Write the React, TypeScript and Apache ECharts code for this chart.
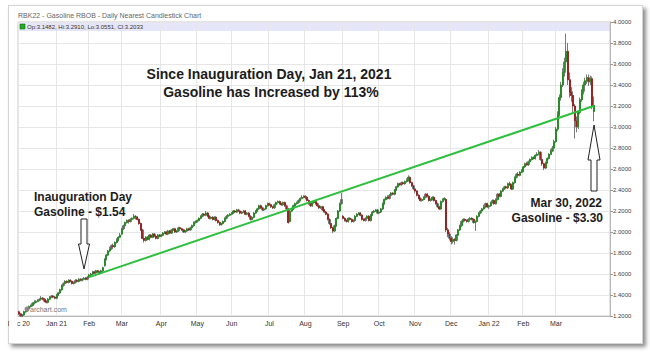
import React, { useEffect, useRef } from "react";
import * as echarts from "echarts";

// Month tick labels (one per month shown on the x axis)
const monthLabels = ["Dec 20", "Jan 21", "Feb", "Mar", "Apr", "May", "Jun", "Jul", "Aug", "Sep", "Oct", "Nov", "Dec", "Jan 22", "Feb", "Mar"];

// Daily candles per month: [open, close, low, high]
const dec20 = [
  [1.24, 1.22, 1.21, 1.25], [1.22, 1.2, 1.19, 1.23], [1.2, 1.21, 1.19, 1.22], [1.21, 1.24, 1.2, 1.25], [1.24, 1.25, 1.23, 1.26],
  [1.25, 1.27, 1.24, 1.28], [1.27, 1.29, 1.26, 1.3], [1.29, 1.3, 1.28, 1.31], [1.3, 1.32, 1.29, 1.33], [1.32, 1.33, 1.31, 1.35],
  [1.33, 1.34, 1.32, 1.35], [1.34, 1.35, 1.33, 1.36], [1.35, 1.36, 1.34, 1.37], [1.36, 1.37, 1.35, 1.39], [1.37, 1.36, 1.35, 1.38],
  [1.36, 1.34, 1.33, 1.37], [1.34, 1.33, 1.32, 1.35], [1.33, 1.36, 1.32, 1.37], [1.36, 1.38, 1.35, 1.39], [1.38, 1.39, 1.37, 1.4],
  [1.39, 1.38, 1.37, 1.4], [1.38, 1.37, 1.36, 1.39],
];
const jan21 = [
  [1.37, 1.4, 1.36, 1.41], [1.4, 1.42, 1.39, 1.43], [1.42, 1.45, 1.41, 1.46], [1.45, 1.49, 1.44, 1.5], [1.49, 1.51, 1.48, 1.52],
  [1.51, 1.53, 1.5, 1.54], [1.53, 1.52, 1.51, 1.54], [1.52, 1.54, 1.51, 1.55], [1.54, 1.53, 1.52, 1.55], [1.53, 1.51, 1.5, 1.54],
  [1.51, 1.52, 1.5, 1.53], [1.52, 1.54, 1.51, 1.55], [1.54, 1.53, 1.52, 1.55], [1.53, 1.55, 1.52, 1.56], [1.55, 1.54, 1.53, 1.56],
  [1.54, 1.55, 1.53, 1.56], [1.55, 1.56, 1.54, 1.57], [1.56, 1.55, 1.54, 1.57], [1.55, 1.57, 1.54, 1.58],
];
const feb21 = [
  [1.57, 1.59, 1.56, 1.6], [1.59, 1.6, 1.58, 1.61], [1.6, 1.62, 1.59, 1.63], [1.62, 1.61, 1.6, 1.63], [1.61, 1.63, 1.6, 1.64],
  [1.63, 1.62, 1.61, 1.64], [1.62, 1.61, 1.6, 1.63], [1.61, 1.63, 1.6, 1.64], [1.63, 1.66, 1.62, 1.67], [1.68, 1.74, 1.67, 1.75],
  [1.74, 1.78, 1.73, 1.79], [1.78, 1.82, 1.77, 1.83], [1.82, 1.84, 1.81, 1.86], [1.84, 1.87, 1.83, 1.88], [1.87, 1.86, 1.84, 1.89],
  [1.86, 1.9, 1.85, 1.91], [1.9, 1.92, 1.89, 1.94], [1.92, 1.95, 1.91, 1.96], [1.95, 1.97, 1.94, 1.99],
];
const mar21 = [
  [1.98, 2.03, 1.97, 2.04], [2.03, 2.06, 2.02, 2.07], [2.06, 2.09, 2.05, 2.1], [2.09, 2.11, 2.08, 2.12], [2.11, 2.1, 2.08, 2.12],
  [2.1, 2.12, 2.09, 2.13], [2.12, 2.13, 2.11, 2.14], [2.13, 2.15, 2.12, 2.17], [2.15, 2.14, 2.12, 2.16], [2.14, 2.12, 2.11, 2.15],
  [2.12, 2.08, 2.07, 2.13], [2.08, 2.02, 2.01, 2.09], [2.02, 1.94, 1.93, 2.03], [1.94, 1.92, 1.9, 1.95], [1.92, 1.95, 1.91, 1.96],
  [1.95, 1.93, 1.92, 1.96], [1.93, 1.97, 1.92, 1.98], [1.97, 1.95, 1.94, 1.98], [1.95, 1.98, 1.94, 1.99], [1.98, 1.96, 1.95, 1.99],
  [1.96, 1.94, 1.93, 1.97], [1.94, 1.97, 1.93, 1.98], [1.97, 1.96, 1.95, 1.98],
];
const apr21 = [
  [1.96, 1.97, 1.95, 1.98], [1.97, 1.99, 1.96, 2.0], [1.99, 2.0, 1.98, 2.01], [2.0, 1.98, 1.97, 2.01], [1.98, 2.01, 1.97, 2.02],
  [2.01, 1.99, 1.98, 2.02], [1.99, 2.02, 1.98, 2.03], [2.02, 2.03, 2.01, 2.04], [2.03, 2.0, 1.99, 2.04], [2.0, 2.01, 1.99, 2.02],
  [2.01, 2.04, 2.0, 2.05], [2.04, 2.03, 2.02, 2.05], [2.03, 2.02, 2.01, 2.04], [2.02, 2.0, 1.99, 2.03], [2.0, 2.01, 1.99, 2.02],
  [2.01, 2.03, 2.0, 2.04], [2.03, 2.02, 2.01, 2.04], [2.02, 2.04, 2.01, 2.05], [2.04, 2.06, 2.03, 2.07], [2.06, 2.09, 2.05, 2.1],
  [2.09, 2.1, 2.08, 2.11],
];
const may21 = [
  [2.1, 2.11, 2.09, 2.12], [2.11, 2.13, 2.1, 2.14], [2.13, 2.15, 2.12, 2.16], [2.15, 2.17, 2.14, 2.18], [2.17, 2.16, 2.15, 2.18],
  [2.16, 2.18, 2.15, 2.2], [2.18, 2.15, 2.14, 2.19], [2.15, 2.13, 2.12, 2.16], [2.13, 2.14, 2.12, 2.15], [2.14, 2.12, 2.11, 2.15],
  [2.12, 2.14, 2.11, 2.15], [2.14, 2.11, 2.1, 2.15], [2.11, 2.09, 2.08, 2.12], [2.09, 2.07, 2.06, 2.1], [2.07, 2.08, 2.06, 2.09],
  [2.08, 2.1, 2.07, 2.11], [2.1, 2.13, 2.09, 2.14], [2.13, 2.15, 2.12, 2.16], [2.15, 2.16, 2.14, 2.17], [2.16, 2.17, 2.15, 2.18],
];
const jun21 = [
  [2.17, 2.18, 2.16, 2.19], [2.18, 2.2, 2.17, 2.21], [2.2, 2.19, 2.18, 2.21], [2.19, 2.21, 2.18, 2.22], [2.21, 2.2, 2.19, 2.22],
  [2.2, 2.18, 2.17, 2.21], [2.18, 2.19, 2.17, 2.2], [2.19, 2.2, 2.18, 2.21], [2.2, 2.17, 2.16, 2.21], [2.17, 2.18, 2.16, 2.19],
  [2.18, 2.15, 2.14, 2.19], [2.15, 2.12, 2.11, 2.16], [2.12, 2.14, 2.11, 2.15], [2.14, 2.18, 2.13, 2.19], [2.18, 2.2, 2.17, 2.21],
  [2.2, 2.22, 2.19, 2.23], [2.22, 2.25, 2.21, 2.26], [2.25, 2.23, 2.22, 2.26], [2.23, 2.21, 2.2, 2.24], [2.21, 2.22, 2.2, 2.23],
  [2.22, 2.25, 2.21, 2.26], [2.25, 2.27, 2.24, 2.28],
];
const jul21 = [
  [2.27, 2.26, 2.25, 2.28], [2.26, 2.24, 2.23, 2.27], [2.24, 2.23, 2.22, 2.25], [2.23, 2.26, 2.22, 2.27], [2.26, 2.28, 2.25, 2.29],
  [2.28, 2.29, 2.27, 2.3], [2.29, 2.27, 2.26, 2.3], [2.27, 2.26, 2.25, 2.28], [2.26, 2.28, 2.25, 2.29], [2.28, 2.25, 2.24, 2.29],
  [2.25, 2.22, 2.21, 2.26], [2.22, 2.09, 2.08, 2.23], [2.1, 2.2, 2.09, 2.21], [2.2, 2.22, 2.19, 2.23], [2.22, 2.25, 2.21, 2.26],
  [2.25, 2.27, 2.24, 2.28], [2.27, 2.28, 2.26, 2.29], [2.28, 2.3, 2.27, 2.31], [2.3, 2.32, 2.29, 2.33], [2.32, 2.33, 2.31, 2.35],
  [2.33, 2.34, 2.32, 2.35],
];
const aug21 = [
  [2.34, 2.33, 2.31, 2.35], [2.33, 2.3, 2.29, 2.34], [2.3, 2.27, 2.26, 2.31], [2.27, 2.25, 2.24, 2.28], [2.25, 2.28, 2.24, 2.29],
  [2.28, 2.29, 2.27, 2.3], [2.29, 2.27, 2.26, 2.3], [2.27, 2.25, 2.24, 2.28], [2.25, 2.23, 2.22, 2.26], [2.23, 2.24, 2.22, 2.25],
  [2.24, 2.21, 2.2, 2.25], [2.21, 2.19, 2.18, 2.22], [2.19, 2.17, 2.16, 2.2], [2.17, 2.12, 2.11, 2.18], [2.12, 2.08, 2.07, 2.13],
  [2.08, 2.04, 2.03, 2.09], [2.04, 2.01, 1.99, 2.05], [2.01, 2.06, 2.0, 2.07], [2.06, 2.13, 2.05, 2.14], [2.13, 2.2, 2.12, 2.21],
  [2.2, 2.27, 2.19, 2.28], [2.27, 2.31, 2.26, 2.37],
];
const sep21 = [
  [2.15, 2.13, 2.12, 2.16], [2.13, 2.11, 2.1, 2.14], [2.11, 2.1, 2.09, 2.12], [2.1, 2.13, 2.09, 2.14], [2.13, 2.12, 2.11, 2.14],
  [2.12, 2.1, 2.09, 2.13], [2.1, 2.11, 2.09, 2.12], [2.11, 2.15, 2.1, 2.16], [2.15, 2.17, 2.14, 2.18], [2.17, 2.18, 2.16, 2.19],
  [2.18, 2.16, 2.15, 2.19], [2.16, 2.12, 2.11, 2.17], [2.12, 2.11, 2.1, 2.13], [2.11, 2.13, 2.1, 2.14], [2.13, 2.15, 2.12, 2.16],
  [2.15, 2.11, 2.1, 2.16], [2.11, 2.16, 2.1, 2.17], [2.16, 2.19, 2.15, 2.2], [2.19, 2.2, 2.18, 2.21], [2.2, 2.21, 2.19, 2.22],
  [2.21, 2.18, 2.17, 2.22],
];
const oct21 = [
  [2.18, 2.19, 2.17, 2.21], [2.19, 2.22, 2.18, 2.23], [2.22, 2.27, 2.21, 2.28], [2.27, 2.31, 2.26, 2.32], [2.31, 2.33, 2.3, 2.34],
  [2.33, 2.32, 2.31, 2.35], [2.32, 2.35, 2.31, 2.36], [2.35, 2.37, 2.34, 2.38], [2.37, 2.36, 2.35, 2.38], [2.36, 2.4, 2.35, 2.41],
  [2.4, 2.43, 2.39, 2.44], [2.43, 2.46, 2.42, 2.47], [2.46, 2.45, 2.44, 2.47], [2.45, 2.47, 2.44, 2.48], [2.47, 2.46, 2.45, 2.48],
  [2.46, 2.48, 2.45, 2.49], [2.48, 2.49, 2.47, 2.51], [2.49, 2.52, 2.48, 2.54], [2.52, 2.47, 2.46, 2.53], [2.47, 2.44, 2.43, 2.48],
  [2.44, 2.41, 2.4, 2.45],
];
const nov21 = [
  [2.41, 2.39, 2.37, 2.42], [2.39, 2.35, 2.34, 2.4], [2.35, 2.32, 2.31, 2.36], [2.32, 2.3, 2.29, 2.33], [2.3, 2.31, 2.29, 2.32],
  [2.31, 2.33, 2.3, 2.34], [2.33, 2.36, 2.32, 2.37], [2.36, 2.34, 2.33, 2.37], [2.34, 2.3, 2.29, 2.35], [2.3, 2.31, 2.29, 2.32],
  [2.31, 2.33, 2.3, 2.34], [2.33, 2.3, 2.29, 2.34], [2.3, 2.27, 2.26, 2.31], [2.27, 2.24, 2.23, 2.28], [2.24, 2.22, 2.21, 2.25],
  [2.22, 2.29, 2.21, 2.3], [2.29, 2.31, 2.28, 2.32], [2.31, 2.32, 2.3, 2.33], [2.31, 2.02, 2.0, 2.32], [2.02, 1.98, 1.95, 2.04],
  [1.98, 1.94, 1.92, 2.0],
];
const dec21 = [
  [1.94, 1.91, 1.88, 1.96], [1.91, 1.93, 1.89, 1.95], [1.93, 1.92, 1.88, 1.94], [1.92, 1.97, 1.91, 1.98], [1.97, 2.02, 1.96, 2.03],
  [2.02, 2.06, 2.01, 2.07], [2.06, 2.1, 2.05, 2.11], [2.1, 2.12, 2.09, 2.13], [2.12, 2.11, 2.1, 2.13], [2.11, 2.1, 2.09, 2.12],
  [2.1, 2.12, 2.09, 2.13], [2.12, 2.13, 2.11, 2.14], [2.13, 2.12, 2.11, 2.14], [2.12, 2.09, 2.08, 2.13], [2.09, 2.1, 2.01, 2.11],
  [2.1, 2.15, 2.09, 2.16], [2.15, 2.18, 2.14, 2.19], [2.18, 2.2, 2.17, 2.21], [2.2, 2.22, 2.19, 2.23], [2.22, 2.24, 2.21, 2.26],
  [2.24, 2.27, 2.23, 2.28], [2.27, 2.24, 2.23, 2.28],
];
const jan22 = [
  [2.24, 2.25, 2.22, 2.26], [2.25, 2.28, 2.24, 2.29], [2.28, 2.3, 2.27, 2.31], [2.3, 2.27, 2.26, 2.31], [2.27, 2.31, 2.26, 2.32],
  [2.31, 2.36, 2.3, 2.37], [2.36, 2.34, 2.33, 2.37], [2.34, 2.39, 2.33, 2.4], [2.39, 2.41, 2.38, 2.42], [2.41, 2.43, 2.4, 2.44],
  [2.43, 2.42, 2.41, 2.44], [2.42, 2.46, 2.41, 2.47], [2.46, 2.45, 2.44, 2.48], [2.45, 2.41, 2.4, 2.46], [2.41, 2.47, 2.4, 2.48],
  [2.47, 2.52, 2.46, 2.53], [2.52, 2.55, 2.51, 2.56], [2.55, 2.54, 2.53, 2.57], [2.54, 2.57, 2.53, 2.58], [2.57, 2.58, 2.56, 2.6],
];
const feb22 = [
  [2.58, 2.62, 2.57, 2.63], [2.62, 2.65, 2.61, 2.66], [2.65, 2.64, 2.63, 2.67], [2.64, 2.67, 2.63, 2.68], [2.67, 2.69, 2.66, 2.7],
  [2.69, 2.71, 2.68, 2.72], [2.71, 2.7, 2.69, 2.72], [2.7, 2.73, 2.69, 2.74], [2.73, 2.74, 2.72, 2.76], [2.74, 2.76, 2.73, 2.78],
  [2.76, 2.69, 2.68, 2.77], [2.69, 2.65, 2.63, 2.7], [2.65, 2.61, 2.59, 2.66], [2.61, 2.66, 2.6, 2.67], [2.66, 2.7, 2.65, 2.71],
  [2.7, 2.74, 2.69, 2.75], [2.74, 2.77, 2.73, 2.79], [2.77, 2.8, 2.76, 2.82], [2.8, 2.86, 2.79, 2.88],
];
const mar22 = [
  [2.86, 2.98, 2.85, 3.0], [2.98, 3.12, 2.96, 3.15], [3.12, 3.28, 3.1, 3.31], [3.28, 3.4, 3.25, 3.43], [3.4, 3.52, 3.38, 3.56],
  [3.52, 3.62, 3.48, 3.66], [3.62, 3.72, 3.58, 3.89], [3.72, 3.45, 3.4, 3.8], [3.45, 3.33, 3.28, 3.52], [3.33, 3.3, 3.24, 3.38],
  [3.3, 3.2, 3.14, 3.34], [3.2, 3.06, 2.89, 3.22], [3.06, 3.0, 2.95, 3.1], [3.0, 3.14, 2.98, 3.16], [3.14, 3.26, 3.12, 3.28],
  [3.26, 3.34, 3.24, 3.36], [3.34, 3.4, 3.31, 3.43], [3.4, 3.44, 3.37, 3.47], [3.44, 3.47, 3.41, 3.5], [3.47, 3.43, 3.39, 3.5],
  [3.43, 3.46, 3.4, 3.49], [3.46, 3.2, 3.17, 3.48], [3.1482, 3.2033, 3.0551, 3.291],
];

// Trend line (Inauguration to last bar) and last price tag
const trendStartIndex = 41;
const trendStartValue = 1.57;
const trendEndIndex = 335;
const trendEndValue = 3.2;
const lastPrice = 3.2033;
const emptyDaysAtRight = 9;

const FONT = "Liberation Sans, Arial, sans-serif";

export default function App() {
  const ref = useRef<HTMLDivElement>(null);

  useEffect(() => {
    if (!ref.current) return;
    const chart = echarts.init(ref.current, undefined, { renderer: "svg" });

    const months = [dec20, jan21, feb21, mar21, apr21, may21, jun21, jul21, aug21, sep21, oct21, nov21, dec21, jan22, feb22, mar22];
    const categories: string[] = [];
    const candles: number[][] = [];
    const monthStart = new Set<number>();
    months.forEach((m, mi) => {
      m.forEach((d, di) => {
        if (di === 0) monthStart.add(categories.length);
        categories.push(`${mi}-${di}`);
        candles.push(d);
      });
    });
    for (let k = 0; k < emptyDaysAtRight; k++) categories.push(`x${k}`);
    // bodies only (open/close range), drawn over the gray wicks
    const bodies = candles.map(([o, c]) => [o, c, Math.min(o, c), Math.max(o, c)]);

    const isStart = (i: number) => monthStart.has(i);
    const textZ = 50;

    chart.setOption({
      animation: false,
      textStyle: { fontFamily: FONT },
      grid: { left: 18, right: 40, top: 22, bottom: 39, show: true, borderColor: "#c8c8c8", borderWidth: 1 },
      xAxis: {
        type: "category",
        data: categories,
        boundaryGap: true,
        axisLine: { lineStyle: { color: "#b8b8b8" } },
        axisTick: { alignWithLabel: true, interval: isStart, length: 3, lineStyle: { color: "#999" } },
        axisLabel: {
          interval: isStart,
          fontSize: 7,
          color: "#333",
          margin: 4,
          fontFamily: FONT,
          formatter: (v: string) => {
            const [a, b] = v.split("-");
            return b === "0" ? monthLabels[Number(a)] : "";
          },
        },
        splitLine: { show: true, interval: isStart, lineStyle: { color: "#e6e6e6" } },
      },
      yAxis: {
        type: "value",
        position: "right",
        min: 1.2,
        max: 4.0,
        interval: 0.2,
        axisLine: { show: true, lineStyle: { color: "#b8b8b8" } },
        axisTick: { show: true, length: 3, lineStyle: { color: "#999" } },
        axisLabel: { fontSize: 6, color: "#444", margin: 3, fontFamily: FONT, formatter: (v: number) => v.toFixed(4) },
        splitLine: { show: true, lineStyle: { color: "#e6e6e6" } },
      },
      series: [
        {
          type: "candlestick",
          data: candles,
          barWidth: "100%",
          itemStyle: {
            color: "#9a9a9a",
            color0: "#9a9a9a",
            borderColor: "#7a7a7a",
            borderColor0: "#7a7a7a",
            borderWidth: 1,
          },
          markLine: {
            silent: true,
            symbol: ["none", "none"],
            z: 10,
            data: [
              [
                {
                  coord: [categories[trendStartIndex], trendStartValue],
                  lineStyle: { color: "#2fbf3f", width: 2, type: "solid" },
                  label: { show: false },
                },
                { coord: [categories[trendEndIndex], trendEndValue] },
              ],
              {
                yAxis: lastPrice,
                lineStyle: { opacity: 0 },
                label: {
                  show: true,
                  position: "end",
                  formatter: lastPrice.toFixed(4),
                  backgroundColor: "#000",
                  color: "#fff",
                  fontSize: 6,
                  padding: [1, 1],
                  distance: 3,
                  fontFamily: FONT,
                },
              },
            ],
          },
        },
        {
          type: "candlestick",
          data: bodies,
          barWidth: "80%",
          itemStyle: {
            color: "#17a317",
            color0: "#b31212",
            borderColor: "#128a12",
            borderColor0: "#9a0e0e",
            borderWidth: 0.6,
          },
        },
      ],
      graphic: [
        { type: "rect", z: -10, shape: { x: 18, y: 22, width: 592, height: 9 }, style: { fill: "#e6e6fa" } },
        { type: "rect", z: textZ, shape: { x: 20, y: 24, width: 5, height: 5 }, style: { fill: "#22aa22", stroke: "#0f5f0f", lineWidth: 0.5 } },
        { type: "text", z: textZ, x: 27, y: 26.5, style: { text: "Op:3.1482, Hi:3.2910, Lo:3.0551, Cl:3.2033", fontSize: 6, fill: "#333", verticalAlign: "middle", fontFamily: FONT } },
        { type: "text", z: textZ, x: 18, y: 15, style: { text: "RBK22 - Gasoline RBOB - Daily Nearest Candlestick Chart", fontSize: 7, fill: "#666", verticalAlign: "middle", fontFamily: FONT } },
        { type: "text", z: textZ, x: 269, y: 74, style: { text: "Since Inauguration Day, Jan 21, 2021", fontSize: 14, fontWeight: "bold", fill: "#1c1c1c", align: "center", verticalAlign: "middle", fontFamily: FONT } },
        { type: "text", z: textZ, x: 271, y: 92, style: { text: "Gasoline has Increased by 113%", fontSize: 14, fontWeight: "bold", fill: "#1c1c1c", align: "center", verticalAlign: "middle", fontFamily: FONT } },
        { type: "text", z: textZ, x: 34, y: 197, style: { text: "Inauguration Day", fontSize: 12, fontWeight: "bold", fill: "#1c1c1c", verticalAlign: "middle", fontFamily: FONT } },
        { type: "text", z: textZ, x: 34, y: 212, style: { text: "Gasoline - $1.54", fontSize: 12, fontWeight: "bold", fill: "#1c1c1c", verticalAlign: "middle", fontFamily: FONT } },
        { type: "text", z: textZ, x: 602, y: 203, style: { text: "Mar 30, 2022", fontSize: 12, fontWeight: "bold", fill: "#1c1c1c", align: "right", verticalAlign: "middle", fontFamily: FONT } },
        { type: "text", z: textZ, x: 603, y: 218, style: { text: "Gasoline - $3.30", fontSize: 12, fontWeight: "bold", fill: "#1c1c1c", align: "right", verticalAlign: "middle", fontFamily: FONT } },
        {
          type: "polygon",
          z: textZ,
          shape: { points: [[81, 219], [87, 219], [87, 244], [89.5, 244], [84, 269], [78.5, 244], [81, 244]] },
          style: { fill: "#fff", stroke: "#222", lineWidth: 1 },
        },
        {
          type: "polygon",
          z: textZ,
          shape: { points: [[594, 125], [600, 160], [597, 160], [597, 191], [591, 191], [591, 160], [588, 160]] },
          style: { fill: "#fff", stroke: "#222", lineWidth: 1 },
        },
        { type: "circle", z: textZ, shape: { cx: 27, cy: 309, r: 2.5 }, style: { fill: "#888" } },
        { type: "text", z: textZ, x: 30, y: 309, style: { text: "archart.com", fontSize: 7, fill: "#777", verticalAlign: "middle", fontFamily: FONT } },
        { type: "rect", z: 100, shape: { x: 9, y: 317, width: 8.5, height: 14 }, style: { fill: "#fff" } },
      ],
    });

    return () => chart.dispose();
  }, []);

  return (
    <div style={{ position: "fixed", left: 0, top: 0, width: 650, height: 355, background: "#fff" }}>
      <div
        style={{
          position: "absolute",
          left: 8,
          top: 5,
          width: 633,
          height: 337,
          border: "1px solid #d4d4d4",
          boxShadow: "3px 3px 4px rgba(0,0,0,0.45)",
          background: "#fff",
        }}
      />
      <div ref={ref} style={{ position: "absolute", left: 0, top: 0, width: 650, height: 355 }} />
    </div>
  );
}
